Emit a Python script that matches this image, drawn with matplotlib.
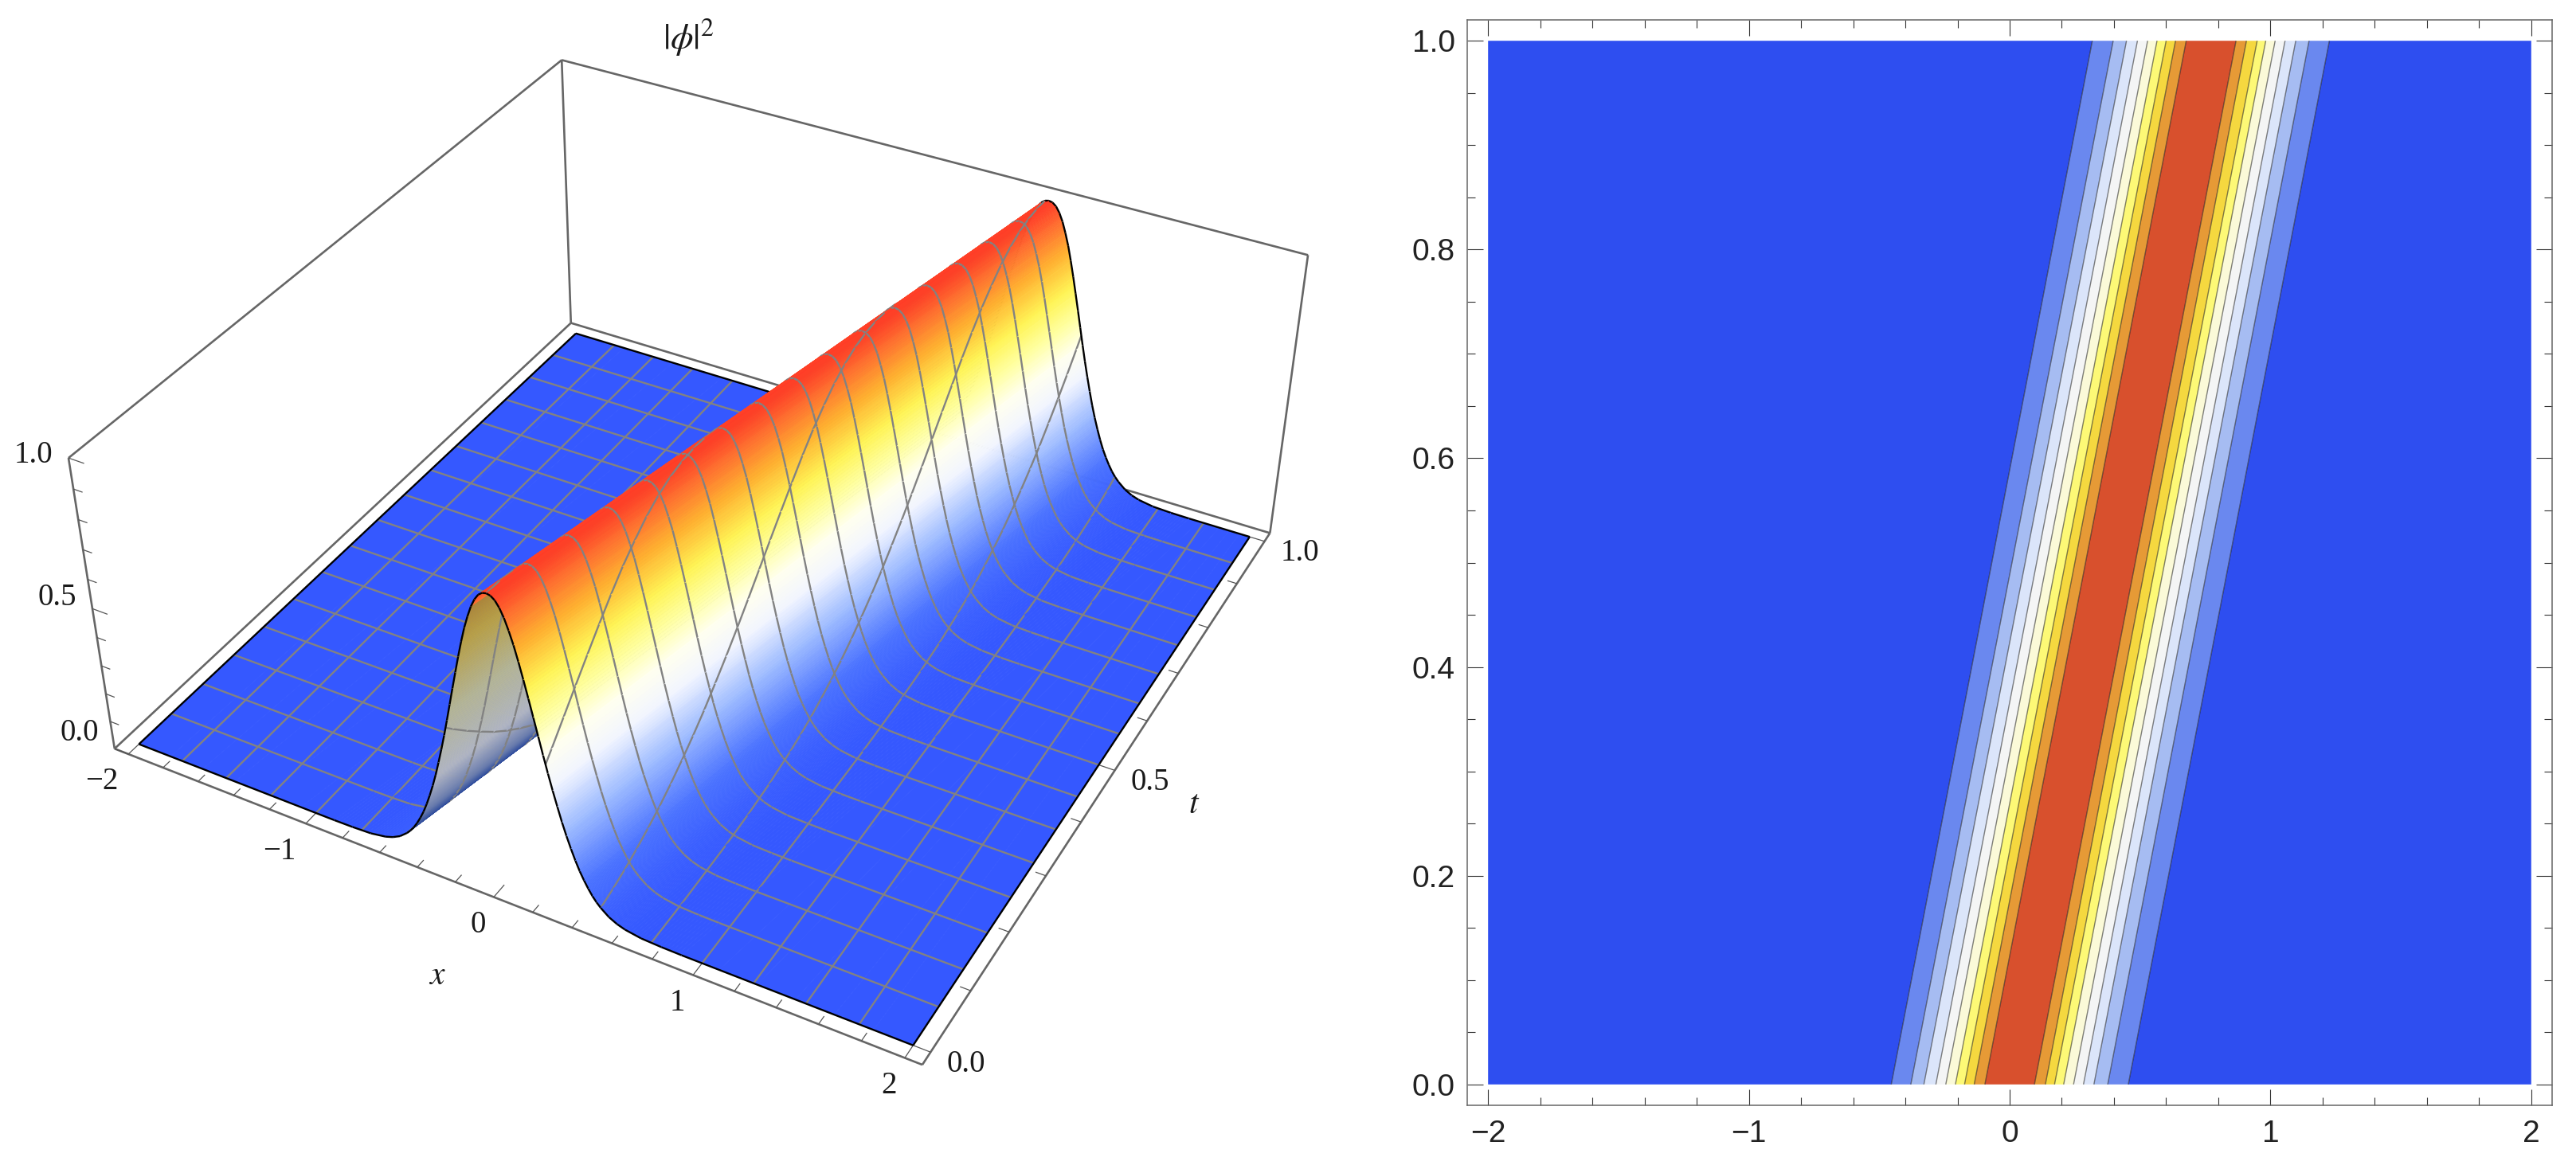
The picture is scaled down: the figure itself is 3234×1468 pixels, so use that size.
import numpy as np
import matplotlib
matplotlib.use('Agg')
import matplotlib.pyplot as plt
from matplotlib.colors import LinearSegmentedColormap
from mpl_toolkits.mplot3d import art3d, proj3d

plt.rcParams['font.family'] = ['Liberation Sans', 'DejaVu Sans']
plt.rcParams['mathtext.fontset'] = 'stix'

# ridge cross-section: distance from the crest and height
ridge_offset = [0.00, 0.02, 0.04, 0.06, 0.08, 0.10, 0.12, 0.14, 0.16, 0.18, 0.20, 0.22, 0.24,
                0.26, 0.28, 0.30, 0.32, 0.34, 0.36, 0.38, 0.40, 0.42, 0.44, 0.46, 0.48, 0.50,
                0.54, 0.58, 0.62, 0.70, 0.80, 0.90]
ridge_height = [0.985, 0.982, 0.972, 0.953, 0.926, 0.890, 0.849, 0.800, 0.747, 0.691, 0.634, 0.576,
                0.518, 0.462, 0.409, 0.359, 0.311, 0.268, 0.229, 0.193, 0.161, 0.134, 0.110, 0.089,
                0.072, 0.058, 0.036, 0.022, 0.013, 0.004, 0.001, 0.000]
# crest position at both ends of the t range
crest_x_t0 = 0.0
crest_x_t1 = 0.771

# contour boundaries of the right panel along t = 0 and t = 1
contour_levels = [0.1, 0.2, 0.3, 0.4, 0.5, 0.6, 0.7, 0.8, 0.9]
left_edges_t0 = [-0.454, -0.379, -0.329, -0.283, -0.245, -0.208, -0.173, -0.136, -0.095]
right_edges_t0 = [0.095, 0.137, 0.172, 0.207, 0.245, 0.283, 0.323, 0.376, 0.455]
left_edges_t1 = [0.317, 0.397, 0.448, 0.490, 0.529, 0.565, 0.600, 0.636, 0.677]
right_edges_t1 = [0.868, 0.908, 0.949, 0.982, 1.018, 1.056, 1.097, 1.148, 1.226]
band_colors = ['#2E4EF0', '#6A88EF', '#A6BCF2', '#DBE5FA', '#F4F5F5',
               '#FBFAD8', '#FDF976', '#F5D83F', '#E69A36', '#D8502D']

mesh_x = [-1.75, -1.5, -1.25, -1.0, -0.75, -0.5, -0.25, 0.0, 0.25, 0.5, 0.75, 1.0, 1.25, 1.5, 1.75]
mesh_t = [0.0625, 0.125, 0.1875, 0.25, 0.3125, 0.375, 0.4375, 0.5, 0.5625, 0.625, 0.6875, 0.75,
          0.8125, 0.875, 0.9375]

xlim = (-2.08, 2.08)
tlim = (-0.02, 1.02)
zlim = (0.0, 1.0)

top_cmap = LinearSegmentedColormap.from_list('top', [
    (0.00, '#3558FF'), (0.12, '#4A72FF'), (0.28, '#9DBBFF'), (0.42, '#F2F5FF'), (0.52, '#FFFFF0'),
    (0.62, '#FFFFA0'), (0.72, '#FFF455'), (0.84, '#FFB030'), (0.93, '#FF7030'), (1.00, '#FF3225')])
under_cmap = LinearSegmentedColormap.from_list('under', [
    (0.00, '#2C4A9C'), (0.08, '#2C4A9C'), (0.16, '#6D7FAE'), (0.30, '#B2B6C2'), (0.55, '#B4B596'),
    (0.80, '#B8A048'), (1.00, '#A87830')])

fig = plt.figure(figsize=(32.34, 14.68), dpi=100)

# ---------- left panel, surface ----------
ax = fig.add_axes([149 / 3234, 88 / 1468, 1468 / 3234, 1.0], projection='3d')
ax.computed_zorder = False
ax.set_proj_type('persp', focal_length=0.4705)
ax.set_box_aspect((1, 1, 0.4), zoom=1.074)
ax.view_init(elev=36.2, azim=-61.56)
ax.set_xlim(*xlim)
ax.set_ylim(*tlim)
ax.set_zlim(*zlim)
ax.set_axis_off()
ax.patch.set_alpha(0)

off = np.array(ridge_offset)
hgt = np.array(ridge_height)
nodes = np.concatenate([-off[::-1], off[1:]])
col_z = np.concatenate([[0.0], hgt[::-1], hgt[1:], [0.0]])
col_x0 = np.concatenate([[-2.0], crest_x_t0 + nodes, [2.0]])
col_x1 = np.concatenate([[-2.0], crest_x_t1 + nodes, [2.0]])
n_strips = len(col_z) - 1
crest = len(off)  # column index of the crest

# t at which a line x = const crosses each column
def crossing_times(xm):
    with np.errstate(divide='ignore', invalid='ignore'):
        tc = (xm - col_x0) / (col_x1 - col_x0)
    tc[0] = np.inf
    tc[-1] = -np.inf
    return tc

def point_in_strip(k, xm, t):
    xa = col_x0[k] + (col_x1[k] - col_x0[k]) * t
    xb = col_x0[k + 1] + (col_x1[k + 1] - col_x0[k + 1]) * t
    frac = (xm - xa) / (xb - xa)
    return (xm, t, col_z[k] + frac * (col_z[k + 1] - col_z[k]))

def t_segment(k, t):
    xa = col_x0[k] + (col_x1[k] - col_x0[k]) * t
    xb = col_x0[k + 1] + (col_x1[k + 1] - col_x0[k + 1]) * t
    return [(xa, t, col_z[k]), (xb, t, col_z[k + 1])]

# strips are painted from low x to high x, which is back to front for this view
shade_steps = 6
for k in range(n_strips):
    # the steep middle of the far flank shows its underside, seen dim and grey
    underside = k < crest - 1 and 0.055 < col_z[k] < 0.95 and 0.055 < col_z[k + 1] < 0.95
    cmap = under_cmap if underside else top_cmap
    # cut the strip lengthwise so the colour runs smoothly across it
    verts, colors = [], []
    for j in range(shade_steps):
        a, b = j / shade_steps, (j + 1) / shade_steps
        xa0 = col_x0[k] + a * (col_x0[k + 1] - col_x0[k])
        xb0 = col_x0[k] + b * (col_x0[k + 1] - col_x0[k])
        xa1 = col_x1[k] + a * (col_x1[k + 1] - col_x1[k])
        xb1 = col_x1[k] + b * (col_x1[k + 1] - col_x1[k])
        za = col_z[k] + a * (col_z[k + 1] - col_z[k])
        zb = col_z[k] + b * (col_z[k + 1] - col_z[k])
        verts.append([(xa0, 0, za), (xb0, 0, zb), (xb1, 1, zb), (xa1, 1, za)])
        colors.append(cmap(0.5 * (za + zb)))
    poly = art3d.Poly3DCollection(verts, facecolors=colors, edgecolors=colors,
                                  linewidths=0.5, zorder=10 + k, zsort='average')
    ax.add_collection3d(poly, autolim=False)

    segs = [t_segment(k, t) for t in mesh_t]
    for xm in mesh_x:
        tc = crossing_times(xm)
        ta, tb = max(tc[k + 1], 0.0), min(tc[k], 1.0)
        if ta < tb:
            segs.append([point_in_strip(k, xm, ta), point_in_strip(k, xm, tb)])
    mesh = art3d.Line3DCollection(segs, colors='#828282', linewidths=1.7, zorder=10 + k + 0.4)
    ax.add_collection3d(mesh, autolim=False)

    edges = [t_segment(k, 0.0), t_segment(k, 1.0)]
    if k == 0:
        edges.append([(-2.0, 0, 0.0), (-2.0, 1, 0.0)])
    if k == n_strips - 1:
        edges.append([(2.0, 0, 0.0), (2.0, 1, 0.0)])
    outline = art3d.Line3DCollection(edges, colors='black', linewidths=1.7, zorder=10 + k + 0.6)
    ax.add_collection3d(outline, autolim=False)

# bounding box, the edges Mathematica leaves visible
x0, x1 = xlim
t0, t1 = tlim
z0, z1 = zlim
box_edges = [((x0, t0, z0), (x1, t0, z0)), ((x1, t0, z0), (x1, t1, z0)),
             ((x1, t1, z0), (x0, t1, z0)), ((x0, t1, z0), (x0, t0, z0)),
             ((x0, t0, z0), (x0, t0, z1)), ((x0, t1, z0), (x0, t1, z1)),
             ((x1, t1, z0), (x1, t1, z1)), ((x0, t0, z1), (x0, t1, z1)),
             ((x0, t1, z1), (x1, t1, z1))]
ax.add_collection3d(art3d.Line3DCollection(box_edges, colors='#666666', linewidths=1.9, zorder=1,
                                           clip_on=False), autolim=False)

x_ticks_major = [-2, -1, 0, 1, 2]
x_ticks_minor = [-1.8, -1.6, -1.4, -1.2, -0.8, -0.6, -0.4, -0.2, 0.2, 0.4, 0.6, 0.8, 1.2, 1.4, 1.6, 1.8]
t_ticks_major = [0.0, 0.5, 1.0]
t_ticks_minor = [0.1, 0.2, 0.3, 0.4, 0.6, 0.7, 0.8, 0.9]
z_ticks_major = [0.0, 0.5, 1.0]
z_ticks_minor = [0.1, 0.2, 0.3, 0.4, 0.6, 0.7, 0.8, 0.9]

tick_segs = []
for v in x_ticks_major:
    tick_segs.append([(v, t0, z0), (v, t0 + 0.022, z0)])
for v in x_ticks_minor:
    tick_segs.append([(v, t0, z0), (v, t0 + 0.013, z0)])
for v in t_ticks_major:
    tick_segs.append([(x1, v, z0), (x1 - 0.085, v, z0)])
for v in t_ticks_minor:
    tick_segs.append([(x1, v, z0), (x1 - 0.05, v, z0)])
for v in z_ticks_major:
    tick_segs.append([(x0, t0, v), (x0 + 0.085, t0, v)])
for v in z_ticks_minor:
    tick_segs.append([(x0, t0, v), (x0 + 0.05, t0, v)])
ax.add_collection3d(art3d.Line3DCollection(tick_segs, colors='#555555', linewidths=0.9, zorder=2,
                                           clip_on=False), autolim=False)

# labels sit at a pixel offset from their tick
def label3d(x, t, z, s, dx, dy, size=28):
    px, py, _ = proj3d.proj_transform(x, t, z, ax.get_proj())
    ax.annotate(s, xy=(px, py), xycoords='data', xytext=(dx, dy), textcoords='offset pixels',
                ha='center', va='center', fontsize=size, family='Liberation Serif',
                color='#1A1A1A', annotation_clip=False, zorder=200)

for v, s in zip(x_ticks_major, ['\u22122', '\u22121', '0', '1', '2']):
    label3d(v, t0, z0, s, -33 if v < 0 else -20, -35)
for v, s in zip(t_ticks_major, ['0.0', '0.5', '1.0']):
    label3d(x1, v, z0, s, 44, -15)
for v, s, dy in zip(z_ticks_major, ['0.0', '0.5', '1.0'], [20, 14, 4]):
    label3d(x0, t0, v, s, -44, dy)
label3d(-0.25, t0, z0, '$x$', -11, -123, size=30)
label3d(x1, 0.5, z0, '$t$', 100, -43, size=30)
fig.text(864 / 3234, 1 - 47 / 1468, r'$|\phi|^2$', fontsize=33, ha='center', va='center',
         color='#1A1A1A')

# ---------- right panel, contours ----------
ax2 = fig.add_axes([1842 / 3234, 80 / 1468, 1362 / 3234, 1363 / 1468])
row_t0 = [-2.0] + left_edges_t0 + [crest_x_t0] + right_edges_t0 + [2.0]
row_t1 = [-2.0] + left_edges_t1 + [crest_x_t1] + right_edges_t1 + [2.0]
grid_x = np.array([row_t0, row_t1])
grid_t = np.array([[0.0] * len(row_t0), [1.0] * len(row_t1)])
row_z = [0.0] + contour_levels + [1.0] + contour_levels[::-1] + [0.0]
grid_z = np.array([row_z, row_z])

fill_levels = [0.0] + contour_levels + [1.0]
ax2.contourf(grid_x, grid_t, grid_z, levels=fill_levels, colors=band_colors, antialiased=True)
ax2.contour(grid_x, grid_t, grid_z, levels=contour_levels, colors=[(0.1, 0.1, 0.1, 0.55)],
            linewidths=1.0)

ax2.set_xlim(-2.08, 2.08)
ax2.set_ylim(-0.02, 1.02)
ax2.set_xticks([-2, -1, 0, 1, 2])
ax2.set_xticklabels(['\u22122', '\u22121', '0', '1', '2'])
ax2.set_xticks(np.array(x_ticks_minor), minor=True)
ax2.set_yticks([0.0, 0.2, 0.4, 0.6, 0.8, 1.0])
ax2.set_yticklabels(['0.0', '0.2', '0.4', '0.6', '0.8', '1.0'])
ax2.set_yticks([v for v in np.arange(0, 21) * 0.05 if round(v * 20) % 4 != 0], minor=True)
ax2.tick_params(which='major', direction='in', length=14.4, width=0.8, color='#333333',
                top=True, right=True, labelsize=28, labelcolor='#222222')
ax2.tick_params(which='minor', direction='in', length=7.5, width=0.8, color='#333333',
                top=True, right=True)
ax2.tick_params(axis='x', which='major', pad=13)
ax2.tick_params(axis='y', which='major', pad=11)
for spine in ax2.spines.values():
    spine.set_color('#666666')
    spine.set_linewidth(1.1)

fig.savefig('out.png', dpi=100)
